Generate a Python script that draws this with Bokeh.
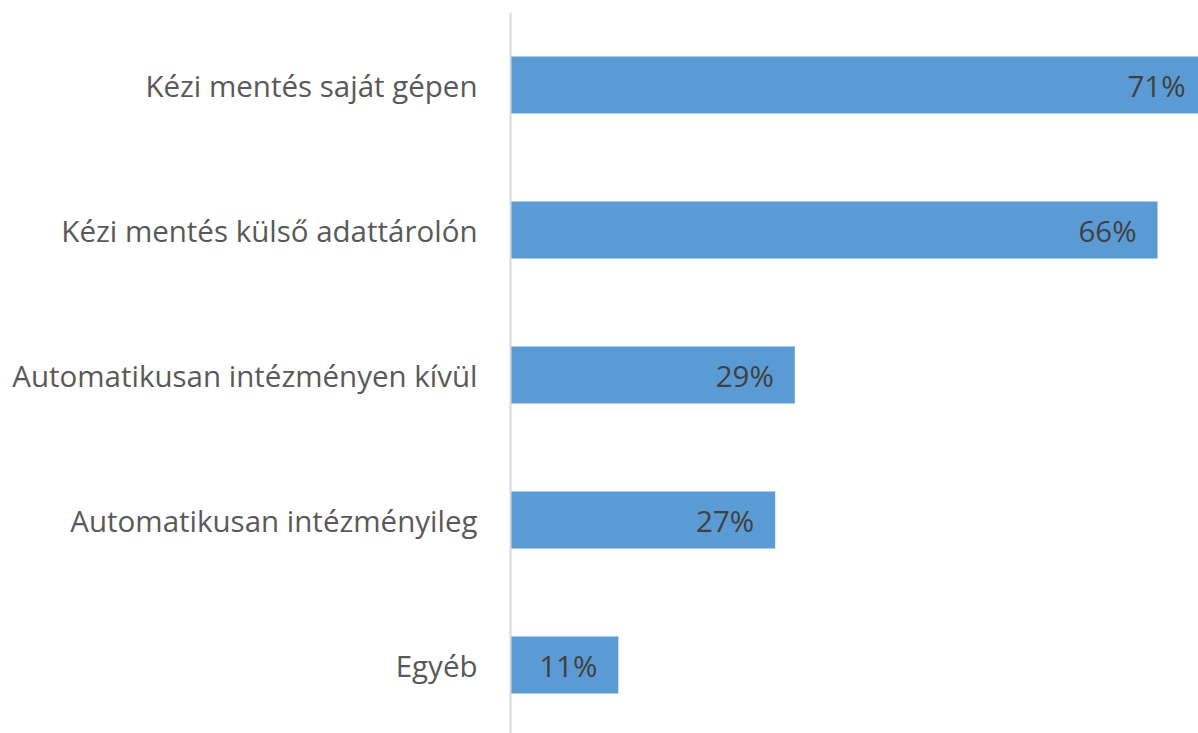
from bokeh.plotting import figure
from bokeh.models import Range1d, FixedTicker, ColumnDataSource
from bokeh.core.properties import value
from bokeh.embed import file_html
from bokeh.resources import INLINE

categories = ["Kézi mentés saját gépen", "Kézi mentés külső adattárolón",
              "Automatikusan intézményen kívül", "Automatikusan intézményileg", "Egyéb"]
values = [71, 66, 29, 27, 11]
labels = ["71%", "66%", "29%", "27%", "11%"]

pos = list(range(len(categories)))
src = ColumnDataSource(dict(y=pos, v=values, lab=labels))

p = figure(width=1198, height=733, output_backend="svg", toolbar_location=None,
           x_range=Range1d(0, 70.18), y_range=Range1d(4.472, -0.5),
           min_border_left=510, min_border_right=0, min_border_top=12, min_border_bottom=0)
p.outline_line_color = None
p.grid.visible = False
p.xaxis.visible = False

p.hbar(y="y", right="v", left=0, height=0.393, source=src, color="#5B9BD5", line_color=None)
p.text(x="v", y="y", text="lab", source=src, x_offset=-21, text_align="right",
       text_baseline="middle", text_font=value("Open Sans"), text_font_size="29.5px",
       text_color="#404040")

ya = p.yaxis[0]
ya.ticker = FixedTicker(ticks=pos)
ya.major_label_overrides = {i: c for i, c in zip(pos, categories)}
ya.major_tick_line_color = None
ya.minor_tick_line_color = None
ya.axis_line_color = "#D9D9D9"
ya.axis_line_width = 2
ya.major_label_standoff = 27
ya.major_label_text_font = "Open Sans"
ya.major_label_text_font_size = "29.5px"
ya.major_label_text_color = "#595959"

open("out.html", "w").write(file_html(p, INLINE))
